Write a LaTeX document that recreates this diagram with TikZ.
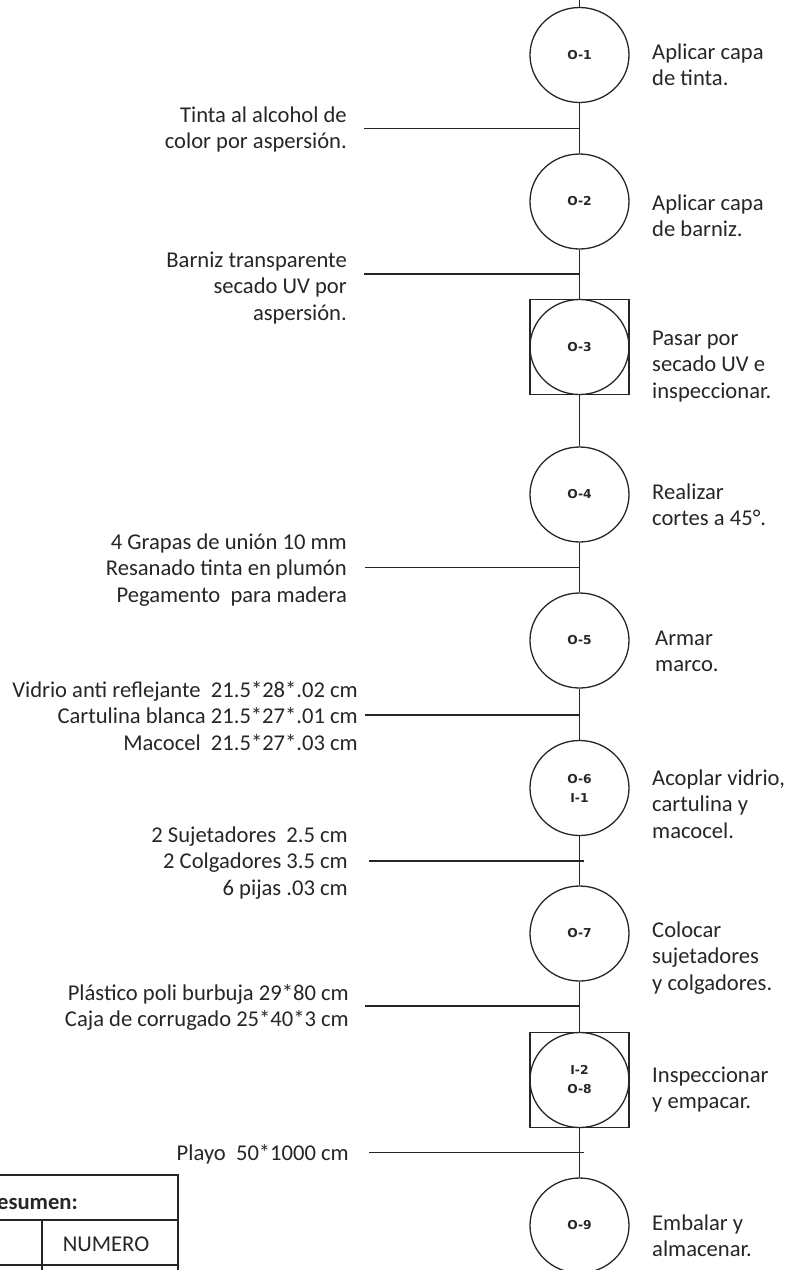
\documentclass[tikz,border=0pt]{standalone}
\usepackage{fontspec}
\setmainfont{Carlito}
\newfontfamily\labelfont{DejaVu Sans}
\usetikzlibrary{shapes.geometric}

\begin{document}
\begin{tikzpicture}[x=1pt,y=-1pt,
  flow/.style={line width=1.3pt, draw=black!85},
  opcirc/.style={ellipse, draw=black!85, line width=1.3pt,
    minimum width=99pt, minimum height=95pt, inner sep=0pt,
    font=\labelfont\bfseries\fontsize{12.3}{19}\selectfont,
    align=center, text=black!85},
  opbox/.style={rectangle, draw=black!85, line width=1.3pt,
    minimum width=99pt, minimum height=95pt, inner sep=0pt},
  desc/.style={anchor=base west, align=left, inner sep=0pt,
    font=\fontsize{22.6}{26.8}\selectfont, text=black!85},
  mat/.style={anchor=base east, align=right, inner sep=0pt,
    font=\fontsize{22.6}{26.8}\selectfont, text=black!85},
  tab/.style={line width=1.3pt, draw=black!85},
]
\useasboundingbox (0,0) rectangle (791,1270);
\clip (0,0) rectangle (791,1270);

% operation symbols along the main line
\node[opcirc] (o1) at (579.5,55)    {O-1};
\node[opcirc] (o2) at (579.5,201.5) {O-2};
\node[opbox]  (b3) at (579.5,347)   {};
\node[opcirc] (o3) at (579.5,347)   {O-3};
\node[opcirc] (o4) at (579.5,494.5) {O-4};
\node[opcirc] (o5) at (579.5,640.5) {O-5};
\node[opcirc] (o6) at (579.5,788)   {O-6\\I-1};
\node[opcirc] (o7) at (579.5,933.5) {O-7};
\node[opbox]  (b8) at (579.5,1080)  {};
\node[opcirc] (o8) at (579.5,1080)  {I-2\\O-8};
\node[opcirc] (o9) at (579.5,1225.5){O-9};

% main vertical line
\coordinate (top) at (579.5,0);
\draw[flow] (top) -- (o1.north);
\draw[flow] (o1.south) -- (o2.north);
\draw[flow] (o2.south) -- (b3.north);
\draw[flow] (b3.south) -- (o4.north);
\draw[flow] (o4.south) -- (o5.north);
\draw[flow] (o5.south) -- (o6.north);
\draw[flow] (o6.south) -- (o7.north);
\draw[flow] (o7.south) -- (b8.north);
\draw[flow] (b8.south) -- (o9.north);

% operation descriptions (positioned by the baseline of their last line)
\node[desc] (d1) at (652,85.8)   {Aplicar capa\\de tinta.};
\node[desc] (d2) at (652,236.8)  {Aplicar capa\\de barniz.};
\node[desc] (d3) at (652,398.6)  {Pasar por\\secado UV e\\inspeccionar.};
\node[desc] (d4) at (652,525.8)  {Realizar\\cortes a 45°.};
\node[desc] (d5) at (655,671.8)  {Armar\\marco.};
\node[desc] (d6) at (652,838.6)  {Acoplar vidrio,\\cartulina y\\macocel.};
\node[desc] (d7) at (652,990.6)  {Colocar\\sujetadores\\y colgadores.};
\node[desc] (d8) at (652,1108.8) {Inspeccionar\\y empacar.};
\node[desc] (d9) at (652,1256.8) {Embalar y\\almacenar.};

% materials entering the process
\node[mat] (m1) at (347,148.8)  {Tinta al alcohol de\\color por aspersión.};
\node[mat] (m2) at (347,320.6)  {Barniz transparente\\secado UV por\\aspersión.};
\node[mat] (m3) at (347,602.6)  {4 Grapas de unión 10 mm\\Resanado tinta en plumón\\Pegamento~ para madera};
\node[mat] (m4) at (358,750.6)  {Vidrio anti reflejante~ 21.5*28*.02 cm\\Cartulina blanca 21.5*27*.01 cm\\Macocel~ 21.5*27*.03 cm};
\node[mat] (m5) at (348,895.6)  {2 Sujetadores~ 2.5 cm\\2 Colgadores 3.5 cm\\6 pijas .03 cm};
\node[mat] (m6) at (349,1026.8) {Plástico poli burbuja 29*80 cm\\Caja de corrugado 25*40*3 cm};
\node[mat] (m7) at (349,1160)   {Playo~ 50*1000 cm};

% feed lines joining the main line
\coordinate (f1) at (364,128.5);  \coordinate (j1) at (579.5,128.5);
\coordinate (f2) at (364,274);    \coordinate (j2) at (579.5,274);
\coordinate (f3) at (365,567.5);  \coordinate (j3) at (579.5,567.5);
\coordinate (f4) at (365,715);    \coordinate (j4) at (579.5,715);
\coordinate (f5) at (369,861);    \coordinate (j5) at (584,861);
\coordinate (f6) at (365,1006);   \coordinate (j6) at (579.5,1006);
\coordinate (f7) at (369,1152.5); \coordinate (j7) at (584,1152.5);
\foreach \k in {1,...,7} \draw[flow] (f\k) -- (j\k);

% summary table
\coordinate (t1) at (-20,1175); \coordinate (t2) at (178,1175);
\coordinate (t3) at (178,1290);
\coordinate (t4) at (-20,1220); \coordinate (t5) at (178,1220);
\coordinate (t6) at (42,1220);  \coordinate (t7) at (42,1290);
\coordinate (t8) at (-20,1265); \coordinate (t9) at (178,1265);
\draw[tab] (t1) -- (t2) -- (t3);
\draw[tab] (t4) -- (t5);
\draw[tab] (t6) -- (t7);
\draw[tab] (t8) -- (t9);
\node[anchor=base east, inner sep=0pt, font=\bfseries\fontsize{22.6}{26.8}\selectfont, text=black!85] (res) at (78,1209) {Resumen:};
\node[anchor=base, inner sep=0pt, font=\fontsize{22.6}{26.8}\selectfont, text=black!85] (num) at (106,1251) {NUMERO};
\end{tikzpicture}
\end{document}
